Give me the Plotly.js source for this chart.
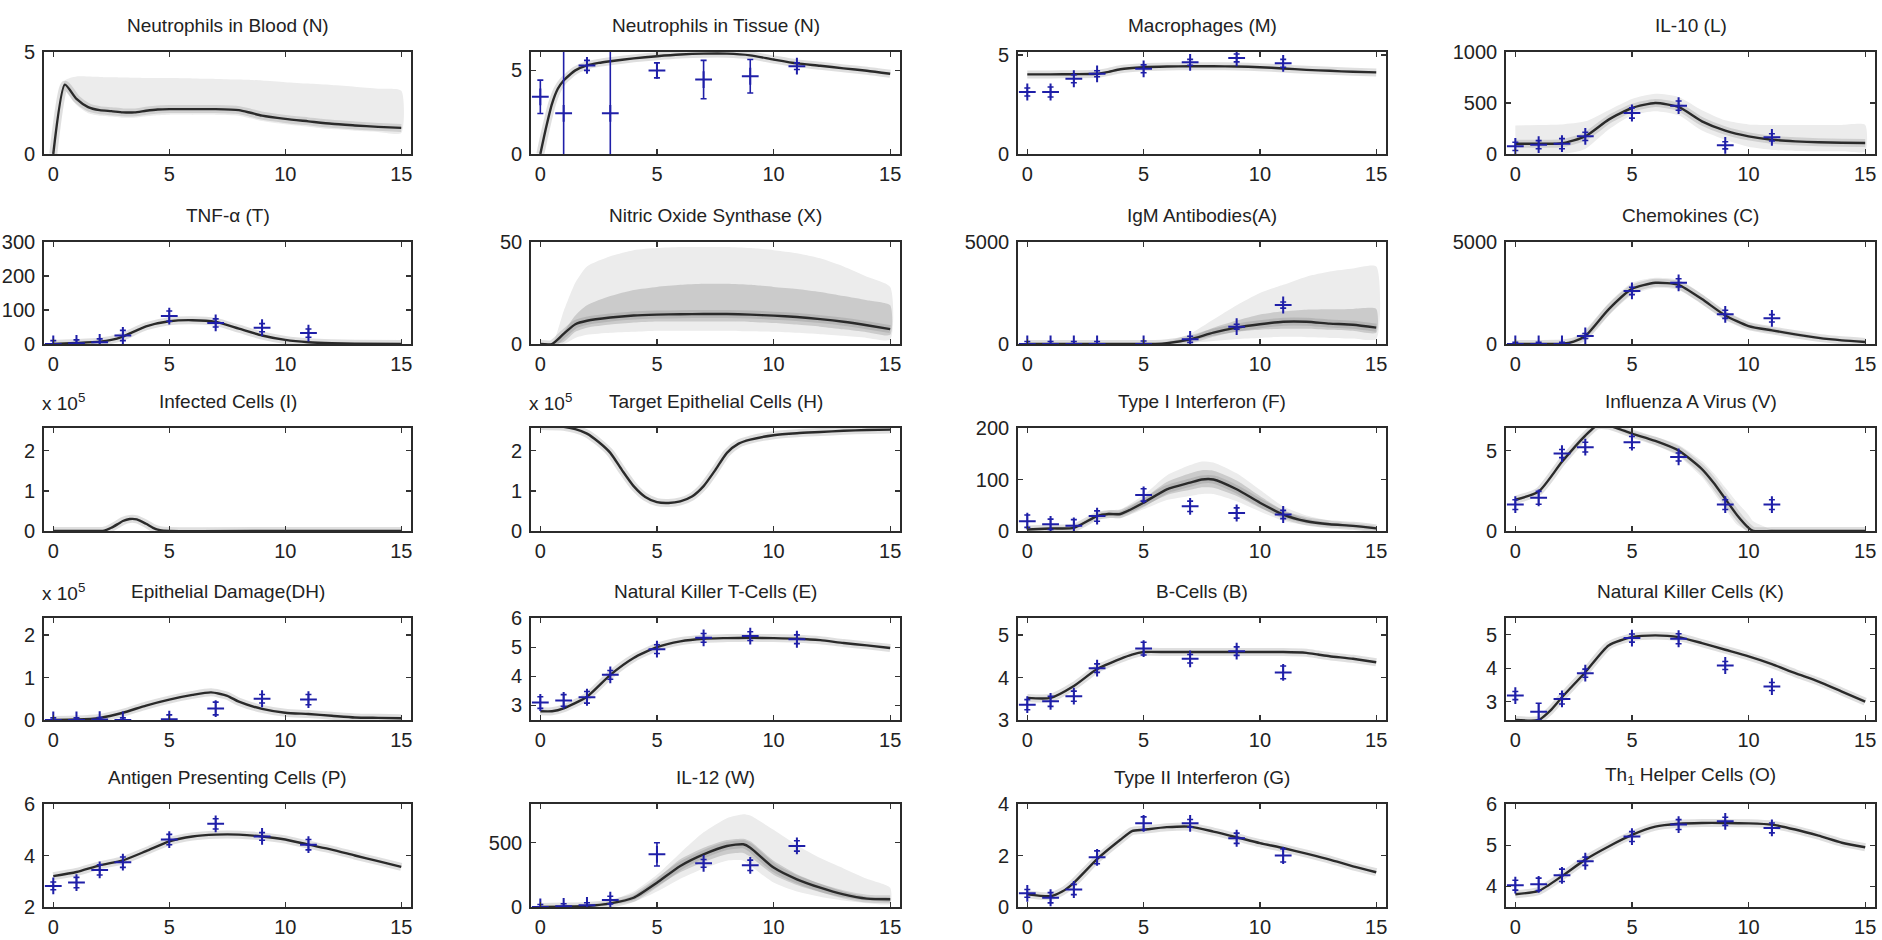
<!DOCTYPE html>
<html><head><meta charset="utf-8">
<script src="https://cdn.plot.ly/plotly-3.0.1.min.js"></script>
<style>html,body{margin:0;padding:0;background:#fff}#chart{width:1882px;height:940px}</style>
</head><body><div id="chart"></div>
<script>
// ---------- data ----------
const OBS_DAYS = [0,1,2,3,5,7,9,11];
const DAYS = [0,1,2,3,4,5,6,7,8,9,10,11,12,13,14,15];
const X_TICKS = [0,5,10,15];

const nb_t   = [0,0.5,1,1.5,2,2.5,3,3.5,4,4.5,5,6,7,8,8.5,9,10,11,12,13,14,15];
const nb_fit = [0,3.4,2.7,2.3,2.15,2.1,2.04,2.04,2.12,2.18,2.2,2.2,2.2,2.15,2.02,1.88,1.72,1.6,1.48,1.4,1.33,1.28];
const nb_hi  = [0,3.6,3.8,3.8,3.78,3.76,3.75,3.74,3.73,3.72,3.72,3.7,3.68,3.65,3.63,3.6,3.52,3.45,3.38,3.3,3.2,3.1];
const nb_lo  = [0,3.1,2.4,2.0,1.88,1.84,1.78,1.78,1.85,1.9,1.93,1.93,1.93,1.88,1.75,1.62,1.46,1.34,1.22,1.14,1.08,1.03];

const nt_t   = [0,0.25,0.5,0.75,1,1.5,2,2.5,3,4,5,6,7,8,9,10,11,12,13,14,15];
const nt_fit = [0,1.6,3.0,3.9,4.4,5.0,5.3,5.45,5.55,5.72,5.85,5.95,6.0,6.0,5.9,5.65,5.42,5.28,5.12,4.98,4.8];
const nt_obs = [3.42,2.43,5.3,2.43,5.0,4.45,4.65,5.25];
const nt_err = [1.0,10,0.3,10,0.45,1.15,1.0,0.2];

const mac_t   = [0,1,2,3,3.5,4,5,6,7,8,9,10,11,12,13,14,15];
const mac_fit = [4.02,4.02,4.03,4.05,4.15,4.28,4.38,4.42,4.43,4.43,4.42,4.38,4.32,4.25,4.2,4.15,4.12];
const mac_obs = [3.13,3.13,3.8,4.05,4.3,4.63,4.85,4.58];
const mac_err = [0.2,0.25,0.2,0.15,0.2,0.15,0.2,0.2];

const il10_fit = [100,100,105,173,337,451,500,461,320,229,173,140,124,115,110,108];
const il10_hi  = [280,285,290,320,430,540,590,560,430,330,290,285,285,285,285,285];
const il10_lo  = [0,0,0,50,240,380,420,380,230,140,70,40,30,28,26,25];
const il10_obs = [75,91,101,173,402,474,85,163];
const il10_err = [40,40,50,40,50,45,35,35];

const tnf_t   = [0,1,2,2.5,3,4,5,6,7,8,9,10,11,12,13,15];
const tnf_fit = [0,3,7,12,22,52,67,70,65,45,25,12,5,2,1,0];
const tnf_obs = [0,2,5,25,82,62,48,32];
const tnf_err = [10,10,10,15,15,12,12,12];

const nos_t   = [0,0.5,1,1.5,2,3,4,5,6,7,8,9,10,11,12,13,14,15];
const nos_fit = [0,0,5,9.7,11.4,13,14,14.4,14.6,14.7,14.7,14.4,13.9,13.2,12.2,10.9,9.2,7.3];
const nos_hi2 = [0,0,6,14,19,23.5,26.5,28,29,29.5,29.5,29,28,27,25.5,23.5,21.5,19];
const nos_lo2 = [0,0,1,6,8,9.5,10.5,11,11,11,11,10.8,10.3,9.5,8.5,7.2,5.8,4.5];
const nos_hi  = [0,0,16,30,38,43,46,47,47.5,47.5,47.5,47,46,44.5,42,38,33,28];
const nos_lo  = [0,0,0,3,4.5,5.5,6,6.5,6.5,6.5,6.5,6.2,6,5.5,4.8,4,3,2.2];

const igm_t   = [0,1,2,3,4,5,5.5,6,7,8,9,10,11,12,13,14,15];
const igm_fit = [0,0,0,0,0,0,5,40,230,555,800,965,1093,1093,1000,940,800];
const igm_hi2 = [0,0,0,0,0,0,10,80,350,800,1150,1450,1600,1680,1700,1720,1720];
const igm_lo2 = [0,0,0,0,0,0,0,20,150,400,600,700,750,750,700,650,550];
const igm_hi  = [0,0,0,0,0,0,20,120,500,1200,1900,2500,2900,3300,3550,3700,3800];
const igm_lo  = [0,0,0,0,0,0,0,0,50,150,250,300,350,330,300,270,250];
const igm_obs = [0,0,0,0,0,230,850,1911];
const igm_err = [120,120,120,120,150,150,120,150];

const chem_t   = [0,1,2,2.5,3,4,5,6,7,8,9,10,11,12,13,14,15];
const chem_fit = [0,0,20,120,392,1700,2700,3000,2900,2200,1400,880,670,475,300,180,100];
const chem_hi  = [0,0,60,250,600,2000,3000,3250,3150,2450,1600,1050,800,580,380,240,150];
const chem_lo  = [0,0,0,50,250,1400,2400,2750,2650,1950,1200,720,540,380,230,120,60];
const chem_obs = [0,0,0,392,2600,3000,1455,1260];
const chem_err = [80,80,80,120,180,200,200,180];

const inf_t   = [0,1,2,2.2,2.5,2.8,3,3.3,3.6,4,4.3,4.6,5,10,15];
const inf_fit = [0,0,0,0.01,0.08,0.18,0.25,0.3,0.29,0.18,0.08,0.02,0,0,0];

const tgt_t   = [0,1,1.5,2,2.5,3,3.5,4,4.5,5,5.5,6,6.5,7,7.5,8,8.5,9,10,11,12,13,14,15];
const tgt_fit = [2.62,2.6,2.54,2.43,2.22,1.95,1.52,1.12,0.85,0.72,0.7,0.74,0.86,1.12,1.52,1.95,2.18,2.28,2.39,2.44,2.47,2.5,2.52,2.53];

const ifn1_t   = [0,1,2,3,3.5,4,5,6,7,7.5,8,9,10,11,12,13,14,15];
const ifn1_fit = [3,5,6,29,33,33,55,81,94,100,100,81,55,32,19,13,10,5];
const ifn1_hi2 = [4,6,8,32,37,38,63,95,112,118,117,98,68,40,24,16,12,7];
const ifn1_lo2 = [2,4,5,26,29,29,48,70,80,85,84,68,45,26,15,10,8,4];
const ifn1_hi  = [6,8,10,35,40,42,70,108,128,135,133,112,80,48,30,20,15,9];
const ifn1_lo  = [1,2,3,22,25,25,42,60,68,72,72,58,38,20,11,7,5,2];
const ifn1_obs = [19,13,10,29,70,48,35,32];
const ifn1_err = [12,10,12,10,12,10,10,8];

const flu_t   = [0,1,2,3,3.5,4,5,6,7,8,8.5,9,9.5,10,10.2,11,12,13,14,15];
const flu_fit = [1.94,2.45,4.3,5.93,6.55,6.55,6.05,5.6,5.0,3.85,3.0,2.0,1.0,0.2,0,0,0,0,0,0];
const flu_hi  = [2.0,2.55,4.45,6.1,6.6,6.6,6.2,5.85,5.35,4.35,3.6,2.7,1.8,1.0,0.6,0.1,0,0,0,0];
const flu_lo  = [1.9,2.35,4.15,5.75,6.45,6.45,5.9,5.35,4.65,3.35,2.4,1.4,0.4,0,0,0,0,0,0,0];
const flu_obs = [1.64,2.06,4.81,5.21,5.52,4.6,1.64,1.64];
const flu_err = [0.3,0.4,0.25,0.3,0.35,0.25,0.3,0.3];

const dh_t   = [0,1,2,3,4,5,6,6.8,7.5,8,9,10,11,12,13,14,15];
const dh_fit = [0,0.01,0.05,0.17,0.34,0.48,0.59,0.65,0.57,0.43,0.26,0.17,0.14,0.1,0.06,0.05,0.04];
const dh_obs = [0,0,0.01,0,0.02,0.27,0.5,0.48];
const dh_err = [0.05,0.05,0.05,0.05,0.1,0.15,0.1,0.12];

const nkt_t   = [0,0.5,1,2,3,4,5,6,7,8,9,10,11,12,13,14,15];
const nkt_fit = [2.8,2.8,2.9,3.3,4.05,4.63,5.0,5.2,5.29,5.31,5.32,5.31,5.29,5.24,5.14,5.06,4.97];
const nkt_obs = [3.1,3.17,3.28,4.05,4.93,5.32,5.38,5.27];
const nkt_err = [0.2,0.2,0.2,0.15,0.15,0.15,0.15,0.15];

const b_t   = [0,1,2,3,4,4.5,5,6,7,8,9,10,11,12,12.5,13,14,15];
const b_fit = [3.52,3.52,3.8,4.2,4.44,4.54,4.6,4.6,4.6,4.6,4.6,4.6,4.6,4.58,4.54,4.5,4.44,4.36];
const b_obs = [3.36,3.44,3.56,4.22,4.68,4.44,4.62,4.12];
const b_err = [0.12,0.12,0.12,0.1,0.15,0.1,0.1,0.15];

const nk_t   = [0,1,1.5,2,3,4,5,6,7,8,9,10,11,12,13,14,15];
const nk_fit = [2.45,2.45,2.73,3.13,3.88,4.68,4.93,4.98,4.93,4.75,4.55,4.35,4.12,3.85,3.6,3.3,3.0];
const nk_obs = [3.18,2.7,3.08,3.85,4.9,4.88,4.08,3.45];
const nk_err = [0.12,0.25,0.15,0.12,0.12,0.15,0.12,0.12];

const apc_fit = [3.2,3.36,3.62,3.81,4.17,4.55,4.74,4.81,4.81,4.74,4.62,4.42,4.23,4.0,3.78,3.56];
const apc_obs = [2.82,2.95,3.44,3.74,4.62,5.23,4.74,4.42];
const apc_err = [0.15,0.2,0.2,0.2,0.2,0.2,0.15,0.2];

const il12_t   = [0,1,2,3,4,5,6,7,8,8.7,9,10,11,12,13,14,15];
const il12_fit = [0,3,8,28,72,189,319,409,474,487,461,306,215,150,98,65,60];
const il12_hi2 = [0,5,12,35,90,220,370,460,520,530,510,360,255,180,120,80,72];
const il12_lo2 = [0,1,4,20,55,160,270,350,410,420,390,250,170,115,75,50,45];
const il12_hi  = [0,8,20,50,120,250,420,580,690,720,710,600,480,380,300,220,150];
const il12_lo  = [0,0,2,12,40,120,220,300,360,360,320,190,120,80,50,30,25];
const il12_obs = [0,5,13,54,409,339,324,474];
const il12_err = [20,20,20,30,90,30,40,40];

const ifn2_t   = [0,1,1.5,2,3,4,4.5,5,6,7,8,9,10,11,12,13,14,15];
const ifn2_fit = [0.49,0.42,0.6,0.94,1.86,2.61,2.95,3.0,3.1,3.12,2.93,2.71,2.48,2.29,2.07,1.84,1.58,1.35];
const ifn2_obs = [0.53,0.36,0.68,1.93,3.25,3.25,2.67,2.0];
const ifn2_err = [0.15,0.2,0.2,0.25,0.25,0.15,0.2,0.25];

const th1_fit = [3.81,3.89,4.25,4.65,4.97,5.25,5.45,5.52,5.54,5.54,5.53,5.5,5.38,5.23,5.06,4.95];
const th1_obs = [4.03,4.05,4.27,4.61,5.21,5.5,5.58,5.42];
const th1_err = [0.12,0.15,0.15,0.1,0.12,0.12,0.1,0.12];

// ---------- panels ----------
const panels = [
 {title:'Neutrophils in Blood (N)', t:nb_t, fit:nb_fit, yr:[0,5], yt:[0,5], outer:[nb_lo,nb_hi]},
 {title:'Neutrophils in Tissue (N)', t:nt_t, fit:nt_fit, obs:nt_obs, err:nt_err, yr:[0,6.1], yt:[0,5]},
 {title:'Macrophages (M)', t:mac_t, fit:mac_fit, obs:mac_obs, err:mac_err, yr:[0,5.15], yt:[0,5]},
 {title:'IL-10 (L)', t:DAYS, fit:il10_fit, obs:il10_obs, err:il10_err, yr:[0,1000], yt:[0,500,1000], outer:[il10_lo,il10_hi]},
 {title:'TNF-α (T)', t:tnf_t, fit:tnf_fit, obs:tnf_obs, err:tnf_err, yr:[0,300], yt:[0,100,200,300]},
 {title:'Nitric Oxide Synthase (X)', t:nos_t, fit:nos_fit, yr:[0,50], yt:[0,50], outer:[nos_lo,nos_hi], inner:[nos_lo2,nos_hi2]},
 {title:'IgM Antibodies(A)', t:igm_t, fit:igm_fit, obs:igm_obs, err:igm_err, yr:[0,5000], yt:[0,5000], outer:[igm_lo,igm_hi], inner:[igm_lo2,igm_hi2]},
 {title:'Chemokines (C)', t:chem_t, fit:chem_fit, obs:chem_obs, err:chem_err, yr:[0,5000], yt:[0,5000], outer:[chem_lo,chem_hi]},
 {title:'Infected Cells (I)', t:inf_t, fit:inf_fit, yr:[0,2.57], yt:[0,1,2], exp:true},
 {title:'Target Epithelial Cells (H)', t:tgt_t, fit:tgt_fit, yr:[0,2.57], yt:[0,1,2], exp:true},
 {title:'Type I Interferon (F)', t:ifn1_t, fit:ifn1_fit, obs:ifn1_obs, err:ifn1_err, yr:[0,200], yt:[0,100,200], outer:[ifn1_lo,ifn1_hi], inner:[ifn1_lo2,ifn1_hi2]},
 {title:'Influenza A Virus (V)', t:flu_t, fit:flu_fit, obs:flu_obs, err:flu_err, yr:[0,6.4], yt:[0,5], outer:[flu_lo,flu_hi]},
 {title:'Epithelial Damage(DH)', t:dh_t, fit:dh_fit, obs:dh_obs, err:dh_err, yr:[0,2.4], yt:[0,1,2], exp:true},
 {title:'Natural Killer T-Cells (E)', t:nkt_t, fit:nkt_fit, obs:nkt_obs, err:nkt_err, yr:[2.5,6], yt:[3,4,5,6]},
 {title:'B-Cells (B)', t:b_t, fit:b_fit, obs:b_obs, err:b_err, yr:[3,5.4], yt:[3,4,5]},
 {title:'Natural Killer Cells (K)', t:nk_t, fit:nk_fit, obs:nk_obs, err:nk_err, yr:[2.45,5.5], yt:[3,4,5]},
 {title:'Antigen Presenting Cells (P)', t:DAYS, fit:apc_fit, obs:apc_obs, err:apc_err, yr:[2,6], yt:[2,4,6]},
 {title:'IL-12 (W)', t:il12_t, fit:il12_fit, obs:il12_obs, err:il12_err, yr:[0,800], yt:[0,500], outer:[il12_lo,il12_hi], inner:[il12_lo2,il12_hi2]},
 {title:'Type II Interferon (G)', t:ifn2_t, fit:ifn2_fit, obs:ifn2_obs, err:ifn2_err, yr:[0,4], yt:[0,2,4]},
 {title:'Th<sub>1</sub> Helper Cells (O)', t:DAYS, fit:th1_fit, obs:th1_obs, err:th1_err, yr:[3.5,6], yt:[4,5,6]}
];

// ---------- layout geometry (pixels) ----------
const W = 1882, H = 940;
const COLS = [[44,411],[531,900],[1018,1386],[1506,1875]];
const ROWS = [[52,154],[242,344],[428,531],[618,720],[804,907]];
const FONT = '"Liberation Sans", Arial, Helvetica, sans-serif';
const BLUE = '#1f1fa8';

const traces = [];
const layout = {
  width: W, height: H, margin:{l:0,r:0,t:0,b:0},
  paper_bgcolor:'#fff', plot_bgcolor:'#fff', showlegend:false,
  font:{family:FONT, color:'#222'}, annotations:[]
};

function poly(t, lo, hi){
  return {x: t.concat(t.slice().reverse()), y: hi.concat(lo.slice().reverse())};
}

panels.forEach((p, i) => {
  const r = Math.floor(i/4), c = i % 4;
  const sfx = i === 0 ? '' : String(i+1);
  const xa = 'x'+sfx, ya = 'y'+sfx;
  const xd = [COLS[c][0]/W, COLS[c][1]/W];
  const yd = [1-ROWS[r][1]/H, 1-ROWS[r][0]/H];
  layout['xaxis'+sfx] = {
    domain: xd, anchor: ya, range:[-0.4,15.42], tickvals: X_TICKS, ticktext: X_TICKS.map(String),
    ticks:'inside', ticklen:5, tickwidth:1.2, tickcolor:'#333', mirror:'ticks', showline:true,
    linecolor:'#2b2b2b', linewidth:1.8, showgrid:false, zeroline:false,
    tickfont:{family:FONT, size:20, color:'#222'}, ticklabelstandoff:1, fixedrange:true
  };
  layout['yaxis'+sfx] = {
    domain: yd, anchor: xa, range: p.yr, tickvals: p.yt, ticktext: p.yt.map(String),
    ticks:'inside', ticklen:5, tickwidth:1.2, tickcolor:'#333', mirror:'ticks', showline:true,
    linecolor:'#2b2b2b', linewidth:1.8, showgrid:false, zeroline:false,
    tickfont:{family:FONT, size:20, color:'#222'}, ticklabelstandoff:3, fixedrange:true
  };
  if (p.outer){
    const q = poly(p.t, p.outer[0], p.outer[1]);
    traces.push({x:q.x, y:q.y, xaxis:xa, yaxis:ya, mode:'lines', fill:'toself',
      fillcolor:'#ececec', line:{width:0, color:'rgba(0,0,0,0)', shape:'spline', smoothing:0.6}, hoverinfo:'skip'});
  }
  if (p.inner){
    const q = poly(p.t, p.inner[0], p.inner[1]);
    traces.push({x:q.x, y:q.y, xaxis:xa, yaxis:ya, mode:'lines', fill:'toself',
      fillcolor:'#cbcbcb', line:{width:0, color:'rgba(0,0,0,0)', shape:'spline', smoothing:0.6}, hoverinfo:'skip'});
  }
  traces.push({x:p.t, y:p.fit, xaxis:xa, yaxis:ya, mode:'lines',
    line:{color:'rgba(110,110,110,0.22)', width:8, shape:'spline', smoothing:0.6}, hoverinfo:'skip'});
  traces.push({x:p.t, y:p.fit, xaxis:xa, yaxis:ya, mode:'lines',
    line:{color:'#2a2a2a', width:2.4, shape:'spline', smoothing:0.6}});
  if (p.obs){
    traces.push({x:OBS_DAYS, y:p.obs, xaxis:xa, yaxis:ya, mode:'markers',
      marker:{symbol:'cross-thin', size:12, color:BLUE, line:{color:BLUE, width:2}},
      error_y:{type:'data', array:p.err, visible:true, color:BLUE, thickness:1.6, width:3}});
  }
  layout.annotations.push({xref:'paper', yref:'paper', x:(xd[0]+xd[1])/2, y:yd[1],
    xanchor:'center', yanchor:'bottom', yshift:14, showarrow:false, text:p.title,
    font:{family:FONT, size:19, color:'#222'}});
  if (p.exp){
    layout.annotations.push({xref:'paper', yref:'paper', x:xd[0], y:yd[1],
      xanchor:'left', yanchor:'bottom', xshift:-4, yshift:12, showarrow:false, text:'x 10<sup>5</sup>',
      font:{family:FONT, size:19, color:'#222'}});
  }
});

Plotly.newPlot('chart', traces, layout, {staticPlot:true});
</script>
</body></html>
